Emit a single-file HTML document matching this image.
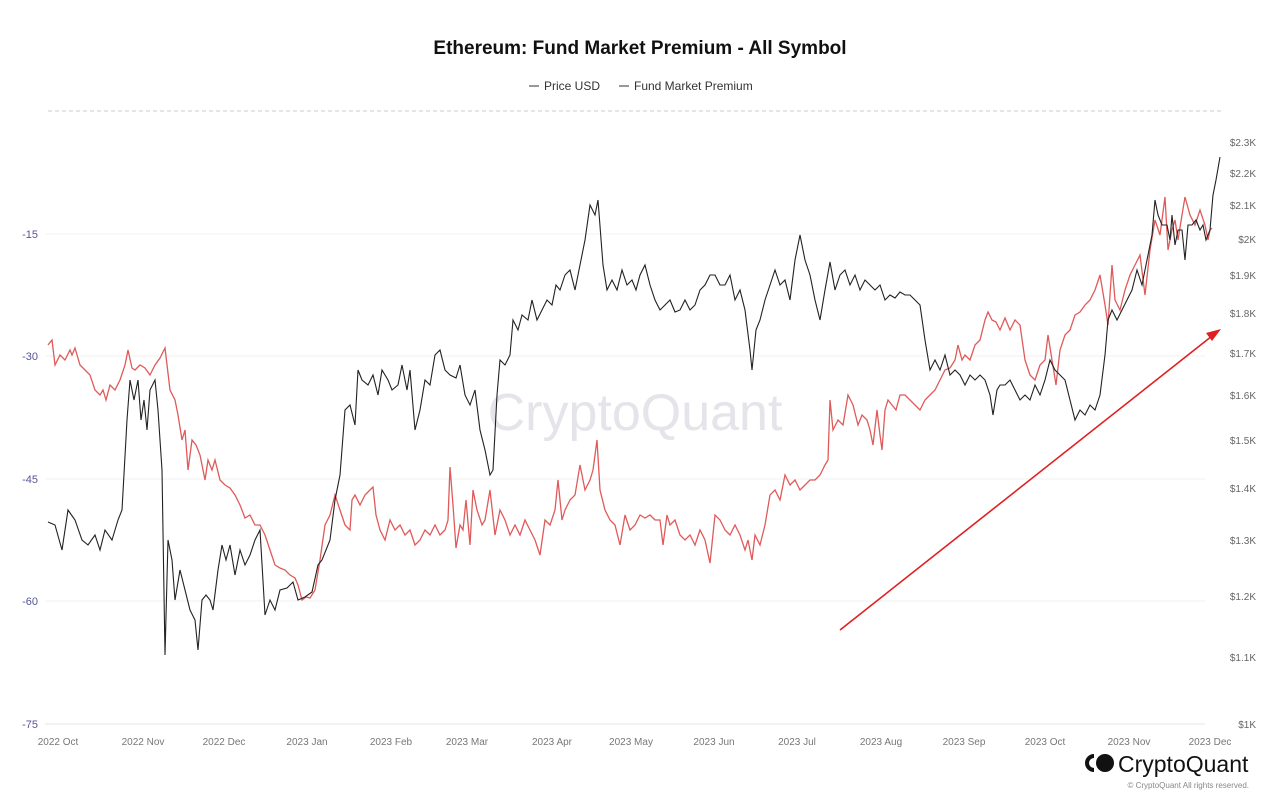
<!DOCTYPE html>
<html><head><meta charset="utf-8"><style>
body{margin:0;background:#fff;font-family:"Liberation Sans",sans-serif}
</style></head><body>
<svg width="1280" height="806" viewBox="0 0 1280 806" xmlns="http://www.w3.org/2000/svg" font-family="Liberation Sans, sans-serif">
<rect width="1280" height="806" fill="#fff"/>
<text x="640" y="54" text-anchor="middle" font-size="19" font-weight="bold" fill="#111">Ethereum: Fund Market Premium - All Symbol</text>
<line x1="529" y1="86" x2="539" y2="86" stroke="#333"/>
<text x="544" y="90" font-size="12" fill="#333">Price USD</text>
<line x1="619" y1="86" x2="629" y2="86" stroke="#333"/>
<text x="634" y="90" font-size="12" fill="#333">Fund Market Premium</text>
<line x1="48" y1="111" x2="1222" y2="111" stroke="#ccc" stroke-dasharray="4,3"/>
<g stroke="#f2f2f2">
<line x1="45" y1="234" x2="1205" y2="234"/><line x1="45" y1="356" x2="1205" y2="356"/><line x1="45" y1="479" x2="1205" y2="479"/><line x1="45" y1="601" x2="1205" y2="601"/><line x1="45" y1="724" x2="1205" y2="724" stroke="#e6e6e6"/>
</g>
<g font-size="11" fill="#55559a" text-anchor="end">
<text x="38" y="238">-15</text><text x="38" y="360">-30</text><text x="38" y="483">-45</text><text x="38" y="605">-60</text><text x="38" y="728">-75</text>
</g>
<g font-size="10" fill="#666" text-anchor="end">
<text x="1256" y="146">$2.3K</text><text x="1256" y="177">$2.2K</text><text x="1256" y="209">$2.1K</text><text x="1256" y="243">$2K</text><text x="1256" y="279">$1.9K</text><text x="1256" y="317">$1.8K</text><text x="1256" y="357">$1.7K</text><text x="1256" y="399">$1.6K</text><text x="1256" y="444">$1.5K</text><text x="1256" y="492">$1.4K</text><text x="1256" y="544">$1.3K</text><text x="1256" y="600">$1.2K</text><text x="1256" y="661">$1.1K</text><text x="1256" y="728">$1K</text>
</g>
<g font-size="10" fill="#777" text-anchor="middle">
<text x="58" y="745">2022 Oct</text><text x="143" y="745">2022 Nov</text><text x="224" y="745">2022 Dec</text><text x="307" y="745">2023 Jan</text><text x="391" y="745">2023 Feb</text><text x="467" y="745">2023 Mar</text><text x="552" y="745">2023 Apr</text><text x="631" y="745">2023 May</text><text x="714" y="745">2023 Jun</text><text x="797" y="745">2023 Jul</text><text x="881" y="745">2023 Aug</text><text x="964" y="745">2023 Sep</text><text x="1045" y="745">2023 Oct</text><text x="1129" y="745">2023 Nov</text><text x="1210" y="745">2023 Dec</text>
</g>
<text x="635" y="430" text-anchor="middle" font-size="52" fill="#e4e4ea">CryptoQuant</text>
<polyline fill="none" stroke="#e05a5a" stroke-width="1.3" points="48,345 52,340 55,365 60,355 65,360 70,350 72,355 75,348 80,365 85,370 90,375 95,390 100,395 103,390 106,400 110,385 115,390 120,380 125,365 128,350 132,368 135,370 140,365 145,368 150,375 155,365 160,358 165,348 170,390 175,400 178,415 182,440 185,430 188,470 192,440 196,445 200,455 205,480 208,460 212,470 215,460 220,480 225,485 230,488 235,495 240,505 245,518 250,515 255,525 260,525 265,535 270,550 275,565 280,568 285,570 290,575 295,578 298,585 302,600 306,597 310,598 315,590 320,560 325,525 330,515 335,495 340,510 345,525 350,530 352,500 355,495 360,505 365,495 370,490 373,487 376,515 380,530 385,540 390,520 395,530 400,525 405,535 410,530 415,545 420,540 425,530 430,535 435,525 440,535 445,530 448,520 450,467 453,505 456,548 460,525 463,530 466,500 470,545 473,490 477,510 482,525 485,520 490,490 495,535 500,510 505,520 510,535 515,525 520,535 525,520 530,530 535,540 540,555 545,520 550,525 555,510 558,480 562,520 565,510 570,500 575,495 580,465 585,490 590,480 593,470 597,440 600,490 605,510 610,520 615,525 620,545 625,515 630,530 635,525 640,515 645,518 650,515 655,520 660,520 663,545 667,515 670,525 675,520 680,535 685,540 690,535 695,545 700,530 705,540 710,563 715,515 720,520 725,530 730,535 735,525 740,535 745,550 748,540 752,560 755,535 760,545 765,525 770,495 775,490 780,500 785,475 790,485 795,480 800,490 805,485 810,480 815,480 820,475 825,465 828,460 830,400 833,430 838,420 843,425 848,395 853,405 858,425 862,415 867,420 870,430 873,445 877,410 880,435 882,450 885,410 888,400 892,405 896,410 900,395 905,395 910,400 915,405 920,410 925,400 930,395 935,390 940,380 945,370 950,368 955,360 958,345 962,360 965,355 970,360 975,345 980,340 985,320 988,312 992,320 996,322 1000,330 1005,318 1010,330 1015,320 1020,325 1025,360 1030,375 1035,380 1040,365 1045,360 1048,335 1052,360 1056,385 1060,350 1065,335 1070,330 1075,315 1080,312 1085,305 1090,300 1095,290 1100,275 1105,305 1108,325 1112,265 1115,300 1120,310 1125,290 1130,275 1135,265 1140,255 1145,295 1150,250 1155,220 1160,235 1165,197 1168,250 1172,230 1175,220 1178,240 1182,215 1185,197 1190,215 1195,225 1200,210 1205,225 1208,240 1210,230 1212,228"/>
<polyline fill="none" stroke="#222" stroke-width="1.1" points="48,522 55,525 62,550 68,510 75,520 82,540 88,545 95,535 100,550 105,530 112,540 118,520 122,510 127,420 130,380 134,400 138,380 141,420 144,400 147,430 150,390 155,380 158,410 162,470 165,655 168,540 172,560 175,600 180,570 185,590 190,610 195,620 198,650 202,600 206,595 210,600 213,610 218,570 222,545 226,560 230,545 235,575 240,550 245,565 250,555 255,540 260,530 265,615 270,600 275,610 280,590 287,588 293,582 298,600 305,597 312,592 318,565 322,560 330,540 335,500 340,475 345,410 350,405 355,425 358,370 362,380 368,385 373,375 378,395 382,370 388,380 392,390 398,385 402,365 407,390 410,370 415,430 420,410 425,380 430,385 435,355 440,350 445,370 450,375 456,378 460,365 465,395 470,405 475,390 480,430 485,450 490,475 493,470 497,395 500,360 505,365 510,355 513,320 518,330 522,315 528,320 532,300 537,320 542,310 547,300 552,305 556,285 560,290 565,275 570,270 575,290 580,265 585,240 590,205 595,215 598,200 603,265 607,290 612,280 617,290 622,270 627,285 632,280 636,290 640,275 645,265 650,285 655,300 660,310 665,305 670,300 675,312 680,310 685,300 690,310 695,305 700,290 705,285 710,275 715,275 720,285 725,285 730,275 735,300 740,290 745,310 750,350 752,370 756,330 760,320 765,300 770,285 775,270 780,285 785,280 790,300 795,260 800,235 805,260 810,275 815,300 820,320 825,290 830,262 835,290 840,275 845,270 850,285 855,275 860,290 865,280 870,285 875,290 880,285 885,300 890,295 895,298 900,292 905,295 910,295 915,300 920,305 925,340 930,370 935,360 940,370 945,355 950,375 955,370 960,375 965,385 970,375 975,380 980,375 985,380 990,395 993,415 997,390 1000,385 1005,385 1010,380 1015,390 1020,400 1025,395 1030,400 1035,385 1040,395 1045,380 1050,360 1055,370 1060,375 1065,380 1070,400 1075,420 1080,410 1085,415 1090,405 1095,410 1100,395 1105,355 1108,320 1112,310 1117,320 1122,310 1127,300 1132,290 1137,270 1142,285 1146,265 1148,255 1152,235 1155,200 1158,215 1162,225 1167,225 1170,240 1172,215 1175,245 1178,230 1182,230 1185,260 1188,225 1192,225 1196,220 1200,230 1203,225 1206,240 1210,230 1213,195 1216,180 1220,157"/>
<line x1="840" y1="630" x2="1212" y2="336" stroke="#e02020" stroke-width="1.6"/>
<polygon points="1221,329 1206,333 1212,341" fill="#e02020"/>
<g fill="#111">
<path d="M1094,754 a9,9 0 1 0 0,18 l0,-4 a5,5 0 0 1 0,-10z"/>
<circle cx="1105" cy="763" r="9"/>
</g>
<text x="1118" y="772" font-size="23" fill="#111">CryptoQuant</text>
<text x="1249" y="788" text-anchor="end" font-size="8" fill="#888">© CryptoQuant All rights reserved.</text>
</svg>
</body></html>
